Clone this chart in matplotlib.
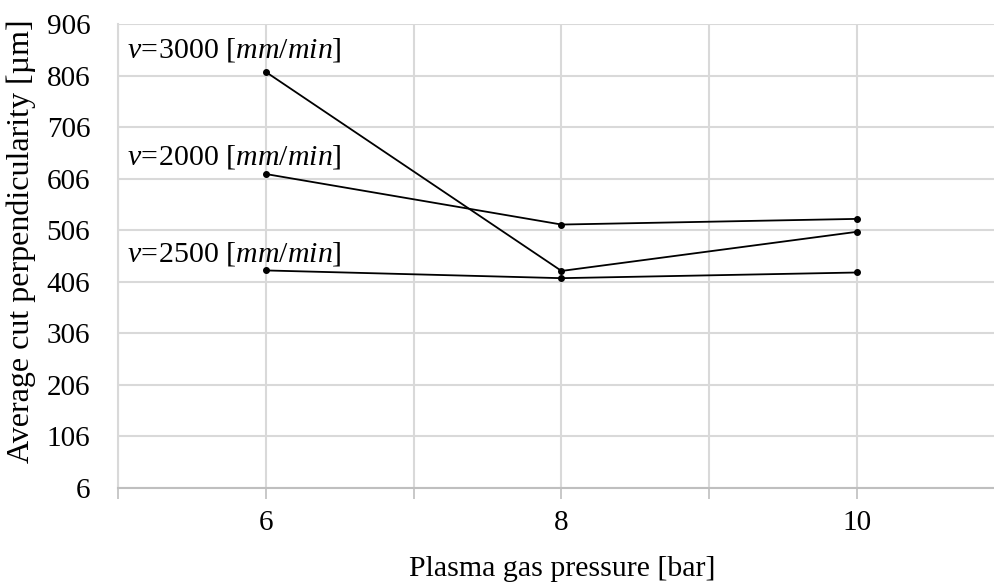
import matplotlib.pyplot as plt

pressure = [6, 8, 10]
v3000 = [813, 427, 503]
v2000 = [615, 517, 528]
v2500 = [428, 413, 424]
labels = ["3000", "2000", "2500"]
label_y = [855, 648, 460]
yticks = list(range(6, 907, 100))

plt.rcParams['font.family'] = ['Liberation Serif', 'DejaVu Serif']
plt.rcParams['mathtext.fontset'] = 'custom'
plt.rcParams['mathtext.rm'] = 'Liberation Serif'
plt.rcParams['mathtext.it'] = 'Liberation Serif:italic'

fig = plt.figure(figsize=(9.94, 5.83), dpi=100)
ax = fig.add_axes([118/994, 95/583, 887/994, 464/583])

grid_c = '#d9d9d9'
for s in [v3000, v2000, v2500]:
    ax.plot(pressure, s, color='black', lw=1.3, marker='o', ms=4, zorder=3)

for lab, y in zip(labels, label_y):
    ax.text(5.06, y, r'$\mathit{v\,\!\!=\,\!\!' + lab + '}$ [' + r'$\mathit{mm/min}$' + ']',
            fontsize=21.5, va='center', ha='left')

ax.set_xlim(5, 11)
ax.set_ylim(6, 906)
ax.set_xticks(range(5, 12))
ax.set_xticklabels(['' if i % 2 else str(i) for i in range(5, 12)])
ax.set_yticks(yticks)
ax.tick_params(axis='x', length=8, width=1.2, color='#bfbfbf', labelsize=21, pad=8)
ax.tick_params(axis='y', length=0, labelsize=21, pad=20)
ax.grid(True, color=grid_c, lw=1.5)
ax.set_axisbelow(True)
for side in ['top', 'right']:
    ax.spines[side].set_visible(False)
ax.spines['left'].set_color(grid_c)
ax.spines['left'].set_linewidth(1.5)
ax.spines['bottom'].set_color('#bfbfbf')
ax.spines['bottom'].set_linewidth(1.5)

ax.set_xlabel('Plasma gas pressure [bar]', fontsize=21.5)
ax.xaxis.set_label_coords(0.5006, -0.147)
ax.set_ylabel('Average cut perpendicularity [µm]', fontsize=23)
ax.yaxis.set_label_coords(-0.093, 0.532)

fig.savefig('out.png', dpi=100)
